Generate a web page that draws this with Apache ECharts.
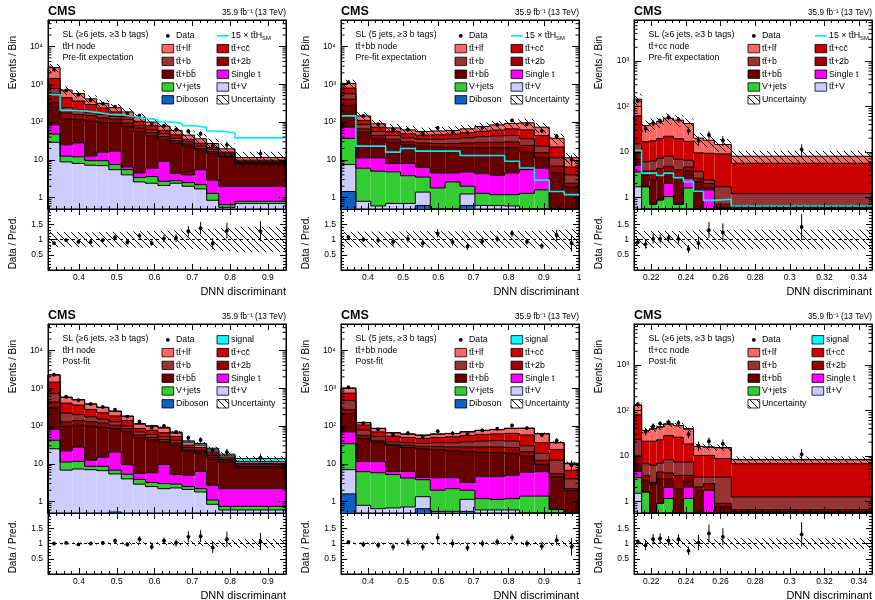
<!DOCTYPE html>
<html>
<head>
<meta charset="utf-8">
<title>DNN discriminant</title>
<script src="https://cdn.jsdelivr.net/npm/echarts@6.0.0/dist/echarts.min.js"></script>
<style>
  html, body { margin: 0; padding: 0; background: #fff; }
  #chart-container { width: 875px; height: 600px; }
</style>
</head>
<body>
<div id="chart-container"></div>
<script>
// ---- bin edges per node ----
const edgesTTH = [0.318, 0.350, 0.382, 0.415, 0.447, 0.479, 0.512, 0.544, 0.576, 0.609, 0.641, 0.673, 0.706, 0.738, 0.770, 0.813, 0.948];
const edgesTTBB = [0.3235, 0.3658, 0.4081, 0.4503, 0.4926, 0.5349, 0.5772, 0.6195, 0.6618, 0.7041, 0.7463, 0.7886, 0.8309, 0.8732, 0.9155, 0.9577, 1.0];
const edgesTTCC = [0.21, 0.2144, 0.219, 0.2231, 0.2271, 0.2328, 0.2386, 0.2444, 0.2501, 0.2565, 0.2662, 0.3475];

// ---- stack tops (cumulative, bottom -> top) ----
// ttH node, pre-fit
const tthPre_dib  = [0, 0, 0, 0, 0, 0, 0, 0, 0, 0, 0, 0, 0, 0, 0, 0];
const tthPre_ttv  = [29, 8.8, 8.0, 7.2, 7.0, 5.5, 4.0, 2.6, 2.4, 2.1, 2.4, 2.0, 1.7, 0.85, 0.55, 0.7];
const tthPre_vj   = [48, 12.5, 12, 9.5, 9.5, 7.5, 5.5, 3.4, 3.6, 2.7, 2.8, 2.5, 2.2, 1.3, 0.65, 0.8];
const tthPre_st   = [85, 25, 28, 12.6, 16, 17, 6.5, 4.5, 6.0, 9.2, 4.4, 4.0, 5.5, 2.9, 2.0, 2.0];
const tthPre_ttbb = [325, 121, 116, 105, 98, 94, 77, 56, 43, 34, 27.5, 23, 18, 14.8, 12.1, 7.8];
const tthPre_tt2b = [560, 175, 158, 148, 128, 121, 94, 70, 53, 41, 32, 26.4, 20, 16.4, 12.6, 8.3];
const tthPre_ttb  = [770, 240, 206, 175, 158, 140, 115, 80, 62, 49, 37, 30, 23, 19, 14.2, 8.8];
const tthPre_ttcc = [1420, 440, 360, 290, 235, 185, 145, 104, 80, 60, 46, 35, 27.5, 21, 16, 9.8];
const tthPre_ttlf = [2750, 700, 570, 410, 312, 240, 185, 132, 100, 78, 60, 45, 36, 27, 19.5, 11.5];
const tthPre_cyan = [530, 205, 195, 180, 160, 155, 140, 125, 115, 100, 92, 80, 72, 58, 52, 38];
const tthPre_data = [2420, 686, 525, 377, 306, 257, 168, 148, 88, 80, 63, 57, 49, 23.5, 25, 14.6];
const tthPre_ratio = [0.88, 0.98, 0.92, 0.92, 0.98, 1.07, 0.91, 1.12, 0.88, 1.03, 1.05, 1.27, 1.37, 0.87, 1.29, 1.27];
const tthPre_rerr = [0.02, 0.04, 0.04, 0.05, 0.06, 0.07, 0.07, 0.09, 0.09, 0.12, 0.13, 0.17, 0.2, 0.18, 0.26, 0.33];
const tthPre_unc  = [0.25, 0.24, 0.24, 0.24, 0.25, 0.25, 0.26, 0.27, 0.28, 0.29, 0.3, 0.31, 0.33, 0.35, 0.38, 0.42];

// ttbb node, pre-fit
const ttbbPre_dib  = [1.45, 0, 0, 0, 0, 0.62, 0, 0, 0.62, 0, 0, 0, 0, 0, 0, 0];
const ttbbPre_ttv  = [7.5, 0.8, 0.6, 0.7, 0.7, 1.4, 0.5, 0.5, 1.25, 0.62, 0.62, 0.6, 0, 0, 0, 0];
const ttbbPre_vj   = [37, 6.0, 5.0, 4.8, 3.8, 3.5, 1.8, 2.6, 2.0, 1.3, 1.2, 1.2, 1.3, 1.6, 0, 0];
const ttbbPre_st   = [73, 11.3, 11.3, 8.0, 8.0, 6.3, 4.5, 4.5, 4.8, 4.3, 3.9, 4.5, 5.5, 6.0, 0, 0];
const ttbbPre_ttbb = [270, 54, 36, 29, 25, 23, 22, 21, 21, 21, 21, 21, 16, 11.3, 4.5, 1.9];
const ttbbPre_tt2b = [400, 66, 44, 35, 30, 28, 27, 27, 28, 29, 29, 30, 24, 15.5, 6.8, 2.4];
const ttbbPre_ttb  = [560, 86, 56, 44, 38, 35, 35, 36, 38, 41, 43, 44, 36, 23, 11.3, 4.0];
const ttbbPre_ttcc = [790, 110, 73, 56, 49, 45, 46, 48, 52, 57, 61, 66, 62, 44, 22, 6.5];
const ttbbPre_ttlf = [1050, 145, 90, 70, 62, 56, 58, 60, 66, 76, 84, 92, 95, 73, 37, 11.3];
const ttbbPre_cyan = [145, 23, 23, 16, 20, 17, 17, 17, 13, 13, 13, 9.2, 6.1, 2.9, 1.45, 1.2];
const ttbbPre_data = [1130, 145, 88, 64, 63, 49, 70, 55, 51, 71, 86, 110, 88, 58, 42, 10];
const ttbbPre_ratio = [1.08, 1.0, 0.98, 0.92, 1.02, 0.88, 1.2, 0.92, 0.77, 0.94, 1.02, 1.2, 0.93, 0.79, 1.14, 0.88];
const ttbbPre_rerr = [0.03, 0.08, 0.1, 0.12, 0.13, 0.13, 0.14, 0.12, 0.11, 0.11, 0.11, 0.11, 0.1, 0.1, 0.18, 0.28];
const ttbbPre_unc  = [0.25, 0.26, 0.26, 0.26, 0.27, 0.27, 0.27, 0.27, 0.27, 0.27, 0.28, 0.28, 0.28, 0.29, 0.31, 0.33];

// ttcc node, pre-fit
const ttccPre_dib  = [0, 0, 0, 0, 0, 0, 0, 0, 0, 0, 0];
const ttccPre_ttv  = [1.7, 0, 0, 0, 0, 0, 0, 0, 0, 0, 0];
const ttccPre_vj   = [3.6, 1.7, 0.7, 0.87, 1.03, 0.7, 1.6, 0, 0, 0, 0];
const ttccPre_st   = [5.1, 1.7, 0.7, 0.87, 2.0, 0.7, 2.6, 0, 1.45, 0, 0];
const ttccPre_ttbb = [6.8, 3.0, 2.4, 3.0, 3.6, 2.8, 3.8, 2.2, 1.6, 0.6, 0.6];
const ttccPre_tt2b = [9.5, 3.8, 3.8, 4.3, 4.8, 4.0, 4.6, 2.6, 2.0, 0.7, 0.65];
const ttccPre_ttb  = [15, 6.0, 6.3, 7.2, 8.0, 6.8, 6.5, 3.7, 2.4, 1.7, 1.2];
const ttccPre_ttcc = [62, 16.7, 17.5, 19.5, 22, 19.5, 17, 9.5, 9.3, 9.0, 5.6];
const ttccPre_ttlf = [145, 38, 42, 47, 55, 50, 42, 20, 18, 14.5, 8.0];
const ttccPre_cyan = [10.8, 3.4, 3.4, 3.0, 3.4, 2.7, 2.2, 1.35, 0.85, 0.9, 0.64];
const ttccPre_data = [132, 32, 43, 48, 58, 51, 29, 17.6, 23.6, 17.8, 11.3];
const ttccPre_ratio = [0.91, 0.85, 1.02, 1.02, 1.05, 1.02, 0.69, 0.88, 1.31, 1.23, 1.41];
const ttccPre_rerr = [0.08, 0.15, 0.16, 0.15, 0.14, 0.15, 0.13, 0.21, 0.27, 0.3, 0.42];
const ttccPre_unc  = [0.28, 0.28, 0.28, 0.28, 0.28, 0.28, 0.29, 0.3, 0.3, 0.31, 0.32];

// ttH node, post-fit
const tthPost_dib  = [0, 0, 0, 0, 0, 0.53, 0, 0, 0, 0, 0, 0, 0, 0, 0, 0];
const tthPost_ttv  = [25, 6.8, 7.3, 7.0, 6.6, 5.4, 4.0, 2.9, 2.5, 2.2, 2.3, 2.1, 1.8, 0.85, 0.6, 0.6];
const tthPost_vj   = [42, 11.2, 11.6, 8.6, 8.6, 6.8, 5.3, 3.9, 3.2, 3.0, 2.9, 2.5, 2.2, 1.1, 0.75, 0.75];
const tthPost_st   = [82, 22, 27.6, 12.4, 15, 20.5, 9.5, 5.6, 5.8, 9.6, 5.2, 5.0, 6.3, 2.7, 2.2, 2.2];
const tthPost_ttbb = [300, 99, 105, 100, 92, 86, 70, 48, 43, 38, 31, 22, 19, 14.5, 11, 7.8];
const tthPost_tt2b = [430, 128, 140, 130, 120, 105, 85, 58, 50, 44, 36, 24.5, 21, 16.5, 12, 8.5];
const tthPost_ttb  = [720, 220, 200, 175, 152, 130, 100, 70, 60, 52, 42, 27, 23, 18, 13, 9.3];
const tthPost_ttcc = [1450, 405, 360, 275, 225, 185, 140, 86, 77, 67, 53, 31, 27, 20.5, 14.5, 10.2];
const tthPost_ttlf = [2240, 570, 490, 378, 308, 244, 180, 112, 98, 88, 65, 37.5, 31.5, 23.3, 16.2, 11.4];
const tthPost_sig  = [2270, 582, 500, 385, 314, 249, 184, 116, 102, 92, 69, 40.5, 34.5, 25.8, 18.0, 13.8];
const tthPost_data = [2270, 594, 485, 385, 320, 271, 178, 132, 91, 100, 70, 49, 43, 22.4, 20.5, 14.6];
const tthPost_ratio = [1.0, 1.02, 0.97, 1.0, 1.02, 1.09, 0.97, 1.14, 0.89, 1.09, 1.02, 1.22, 1.24, 0.87, 1.14, 1.06];
const tthPost_rerr = [0.02, 0.04, 0.04, 0.05, 0.06, 0.07, 0.07, 0.1, 0.09, 0.11, 0.12, 0.18, 0.2, 0.18, 0.25, 0.28];
const tthPost_unc  = [0.03, 0.03, 0.03, 0.03, 0.035, 0.04, 0.04, 0.045, 0.05, 0.05, 0.06, 0.07, 0.08, 0.1, 0.12, 0.15];

// ttbb node, post-fit
const ttbbPost_dib  = [1.6, 0, 0, 0, 0, 0.65, 0, 0, 0.55, 0, 0, 0, 0, 0, 0, 0];
const ttbbPost_ttv  = [7.0, 0.8, 0.65, 0.68, 0.72, 1.35, 0.55, 0.55, 1.15, 0.6, 0.6, 0.6, 0, 0, 0, 0];
const ttbbPost_vj   = [34, 6.2, 5.8, 5.2, 4.2, 3.8, 2.0, 2.2, 2.0, 1.2, 1.15, 1.2, 1.4, 1.4, 0.62, 0];
const ttbbPost_st   = [70, 11.5, 11.5, 6.3, 6.3, 4.4, 4.3, 4.3, 3.2, 4.6, 4.6, 5.0, 6.0, 6.2, 0.62, 0];
const ttbbPost_ttbb = [215, 47, 38, 31, 27, 25, 24, 22, 21, 20, 20, 19, 16, 9.5, 4.5, 1.95];
const ttbbPost_tt2b = [270, 57, 42, 33, 31, 29, 29, 28, 28, 28, 28, 27, 21, 12.4, 5.5, 2.2];
const ttbbPost_ttb  = [470, 78, 52, 38, 36, 34.5, 36, 36, 38, 40, 41, 40, 30, 19, 12.4, 4.0];
const ttbbPost_ttcc = [740, 106, 70, 54, 50, 47, 50, 52, 56, 60, 62, 64, 58, 36, 24, 6.7];
const ttbbPost_ttlf = [1000, 123, 86, 66, 61, 57, 61, 63, 70, 76, 80, 86, 86, 62, 36, 10.1];
const ttbbPost_sig  = [1010, 124, 87, 66.7, 61.6, 57.6, 61.6, 63.7, 70.8, 77, 81, 87.5, 88, 63.5, 36.8, 10.4];
const ttbbPost_data = [1060, 120, 82, 59, 65, 51, 73, 64, 61, 77, 85, 104, 88, 58, 41, 9.3];
const ttbbPost_ratio = [1.05, 0.97, 0.94, 0.89, 1.05, 0.89, 1.19, 1.0, 0.86, 1.0, 1.05, 1.19, 1.0, 0.91, 1.11, 0.89];
const ttbbPost_rerr = [0.03, 0.09, 0.1, 0.12, 0.13, 0.12, 0.14, 0.13, 0.11, 0.11, 0.11, 0.12, 0.11, 0.12, 0.17, 0.29];
const ttbbPost_unc  = [0.03, 0.035, 0.035, 0.035, 0.035, 0.035, 0.04, 0.04, 0.04, 0.04, 0.04, 0.045, 0.05, 0.06, 0.08, 0.1];

// ttcc node, post-fit
const ttccPost_dib  = [0, 0, 0, 0, 0, 0, 0, 0, 0, 0, 0];
const ttccPost_ttv  = [1.5, 0, 0, 0, 0, 0, 0, 0, 0, 0, 0];
const ttccPost_vj   = [3.3, 1.6, 0, 0.9, 1.15, 0, 1.15, 0, 0, 0, 0];
const ttccPost_st   = [4.5, 1.6, 0, 0.9, 2.0, 0, 2.05, 0, 1.74, 0, 0];
const ttccPost_ttbb = [6.5, 2.9, 2.4, 3.1, 3.1, 1.9, 2.9, 1.74, 1.74, 0.75, 0.58];
const ttccPost_tt2b = [10, 3.7, 2.6, 4.4, 4.2, 3.7, 3.7, 2.05, 2.45, 0.9, 0.65];
const ttccPost_ttb  = [23, 6.7, 6.2, 6.9, 8.2, 7.3, 7.3, 3.4, 3.4, 3.4, 1.24];
const ttccPost_ttcc = [80, 21, 21, 22.5, 28, 25.7, 18.3, 10.2, 10.2, 8.7, 6.7];
const ttccPost_ttlf = [130, 36, 39, 43, 50, 46, 39, 16, 15.5, 15, 8.2];
const ttccPost_sig  = [131, 36.3, 39.4, 43.4, 50.5, 46.5, 39.4, 16.2, 15.7, 15.2, 8.3];
const ttccPost_data = [138, 34, 45, 51, 55, 53, 30, 16.7, 20.9, 18.5, 10.8];
const ttccPost_ratio = [1.05, 0.94, 1.14, 1.17, 1.09, 1.14, 0.76, 1.03, 1.33, 1.22, 1.3];
const ttccPost_rerr = [0.09, 0.16, 0.17, 0.165, 0.15, 0.16, 0.14, 0.25, 0.29, 0.28, 0.4];
const ttccPost_unc  = [0.12, 0.14, 0.14, 0.14, 0.14, 0.14, 0.14, 0.15, 0.15, 0.16, 0.17];

// ---- legend entries: [label, marker] (marker = process index, 'dot', 'line' or 'hatch') ----
const TT = 'tt\u0304';
const legendPreTT = {
  c1: [['Data', 'dot'], [TT + '+lf', 8], [TT + '+b', 6], [TT + '+bb\u0304', 4], ['V+jets', 2], ['Diboson', 0]],
  c2: [['15 \u00d7 ' + TT + 'H', 'line'], [TT + '+cc\u0304', 7], [TT + '+2b', 5], ['Single t', 3], [TT + '+V', 1], ['Uncertainty', 'hatch']]
};
const legendPreCC = {
  c1: [['Data', 'dot'], [TT + '+lf', 8], [TT + '+b', 6], [TT + '+bb\u0304', 4], ['V+jets', 2], ['Uncertainty', 'hatch']],
  c2: [['15 \u00d7 ' + TT + 'H', 'line'], [TT + '+cc\u0304', 7], [TT + '+2b', 5], ['Single t', 3], [TT + '+V', 1]]
};
const legendPostTT = {
  c1: legendPreTT.c1,
  c2: [['signal', 9]].concat(legendPreTT.c2.slice(1))
};
const legendPostCC = {
  c1: legendPreCC.c1,
  c2: [['signal', 9]].concat(legendPreCC.c2.slice(1))
};

const selSix = 'SL (\u22656 jets, \u22653 b tags)';
const selFive = 'SL (5 jets, \u22653 b tags)';

// ---------------------------------------------------------------
var dom = document.getElementById("chart-container");
var myChart = echarts.init(dom, null, { renderer: "canvas" });

const FONT = '"Liberation Sans", Arial, Helvetica, sans-serif';
// diboson, ttV, V+jets, single t, tt+bb, tt+2b, tt+b, tt+cc, tt+lf, signal
const procColors = ['#0b62c4', '#ccccff', '#33cc33', '#ff00ff', '#660000', '#990000', '#993333', '#cc0000', '#ff6666', '#00ffff'];
const CYAN = '#00f0f0';

const colLeft = [48, 341, 634];
const rowTop = [20, 324];
const W = 238, HM = 189, HR = 61;

function makeHatch() {
  const s = 7;
  const c = document.createElement('canvas');
  c.width = s; c.height = s;
  const g = c.getContext('2d');
  g.strokeStyle = '#000';
  g.lineWidth = 1;
  for (let k = -1; k <= 1; k++) {
    g.beginPath();
    g.moveTo(k * s, 0);
    g.lineTo(k * s + s, s);
    g.stroke();
  }
  return c;
}
const hatchFill = { image: makeHatch(), repeat: 'repeat' };

const panels = [
  { edges: edgesTTH, xStep: 0.1, showMaxX: false, yMin: 0.5, yMax: 5e4,
    layers: [tthPre_dib, tthPre_ttv, tthPre_vj, tthPre_st, tthPre_ttbb, tthPre_tt2b, tthPre_ttb, tthPre_ttcc, tthPre_ttlf],
    cyan: tthPre_cyan, data: tthPre_data, ratio: tthPre_ratio, rerr: tthPre_rerr, unc: tthPre_unc,
    text: [selSix, TT + 'H node', 'Pre-fit expectation'], legend: legendPreTT, col2: 169 },
  { edges: edgesTTBB, xStep: 0.1, showMaxX: true, yMin: 0.5, yMax: 5e4,
    layers: [ttbbPre_dib, ttbbPre_ttv, ttbbPre_vj, ttbbPre_st, ttbbPre_ttbb, ttbbPre_tt2b, ttbbPre_ttb, ttbbPre_ttcc, ttbbPre_ttlf],
    cyan: ttbbPre_cyan, data: ttbbPre_data, ratio: ttbbPre_ratio, rerr: ttbbPre_rerr, unc: ttbbPre_unc,
    text: [selFive, TT + '+bb node', 'Pre-fit expectation'], legend: legendPreTT, col2: 170 },
  { edges: edgesTTCC, xStep: 0.02, showMaxX: false, yMin: 0.55, yMax: 8000,
    layers: [ttccPre_dib, ttccPre_ttv, ttccPre_vj, ttccPre_st, ttccPre_ttbb, ttccPre_tt2b, ttccPre_ttb, ttccPre_ttcc, ttccPre_ttlf],
    cyan: ttccPre_cyan, data: ttccPre_data, ratio: ttccPre_ratio, rerr: ttccPre_rerr, unc: ttccPre_unc,
    text: [selSix, TT + '+cc node', 'Pre-fit expectation'], legend: legendPreCC, col2: 181 },
  { edges: edgesTTH, xStep: 0.1, showMaxX: false, yMin: 0.5, yMax: 5e4,
    layers: [tthPost_dib, tthPost_ttv, tthPost_vj, tthPost_st, tthPost_ttbb, tthPost_tt2b, tthPost_ttb, tthPost_ttcc, tthPost_ttlf, tthPost_sig],
    cyan: null, data: tthPost_data, ratio: tthPost_ratio, rerr: tthPost_rerr, unc: tthPost_unc,
    text: [selSix, TT + 'H node', 'Post-fit'], legend: legendPostTT, col2: 169 },
  { edges: edgesTTBB, xStep: 0.1, showMaxX: true, yMin: 0.5, yMax: 5e4,
    layers: [ttbbPost_dib, ttbbPost_ttv, ttbbPost_vj, ttbbPost_st, ttbbPost_ttbb, ttbbPost_tt2b, ttbbPost_ttb, ttbbPost_ttcc, ttbbPost_ttlf, ttbbPost_sig],
    cyan: null, data: ttbbPost_data, ratio: ttbbPost_ratio, rerr: ttbbPost_rerr, unc: ttbbPost_unc,
    text: [selFive, TT + '+bb node', 'Post-fit'], legend: legendPostTT, col2: 170 },
  { edges: edgesTTCC, xStep: 0.02, showMaxX: false, yMin: 0.55, yMax: 8000,
    layers: [ttccPost_dib, ttccPost_ttv, ttccPost_vj, ttccPost_st, ttccPost_ttbb, ttccPost_tt2b, ttccPost_ttb, ttccPost_ttcc, ttccPost_ttlf, ttccPost_sig],
    cyan: null, data: ttccPost_data, ratio: ttccPost_ratio, rerr: ttccPost_rerr, unc: ttccPost_unc,
    text: [selSix, TT + '+cc node', 'Post-fit'], legend: legendPostCC, col2: 178 }
];

const grid = [], xAxis = [], yAxis = [], series = [], graphic = [];

const black = { color: '#000', width: 1 };

function logLabel(v) {
  const l = Math.log10(v);
  const e = Math.round(l);
  if (Math.abs(l - e) > 0.01 || e < 0) return '';
  return ['1', '10', '10\u00b2', '10\u00b3', '10\u2074'][e] || '';
}

function xAx(g, p, pos, labels) {
  return {
    gridIndex: g, type: 'value', position: pos, z: 10,
    min: p.edges[0], max: p.edges[p.edges.length - 1],
    minInterval: p.xStep, maxInterval: p.xStep,
    axisLine: { show: true, onZero: false, lineStyle: black },
    axisTick: { show: true, inside: true, length: 6, lineStyle: black },
    minorTick: { show: true, splitNumber: 5, length: 3, lineStyle: black },
    axisLabel: { show: labels, color: '#000', fontSize: 8.5, fontFamily: FONT, margin: 3,
      showMinLabel: false, showMaxLabel: p.showMaxX },
    splitLine: { show: false }, minorSplitLine: { show: false }
  };
}

function yLog(g, p, pos, labels) {
  return {
    gridIndex: g, type: 'log', logBase: 10, position: pos, z: 10,
    min: p.yMin, max: p.yMax,
    axisLine: { show: true, onZero: false, lineStyle: black },
    axisTick: { show: true, inside: true, length: 7, lineStyle: black },
    minorTick: { show: false },
    axisLabel: { show: labels, color: '#000', fontSize: 8.5, fontFamily: FONT, margin: 5,
      showMinLabel: false, showMaxLabel: false, formatter: logLabel },
    splitLine: { show: false }
  };
}

function yRatio(g, pos, labels) {
  return {
    gridIndex: g, type: 'value', position: pos, z: 10,
    min: 0, max: 2, minInterval: 0.5, maxInterval: 0.5,
    axisLine: { show: true, onZero: false, lineStyle: black },
    axisTick: { show: true, inside: true, length: 6, lineStyle: black },
    minorTick: { show: true, splitNumber: 5, length: 3, lineStyle: black },
    axisLabel: { show: labels, color: '#000', fontSize: 8.5, fontFamily: FONT, margin: 5,
      showMinLabel: false, showMaxLabel: false },
    splitLine: { show: false }, minorSplitLine: { show: false }
  };
}

// rectangle from [x0, x1, y0, y1, colorIndex]
function rectItem(params, api) {
  const a = api.coord([api.value(0), api.value(3)]);
  const b = api.coord([api.value(1), api.value(2)]);
  return {
    type: 'rect',
    shape: { x: a[0], y: a[1], width: b[0] - a[0], height: b[1] - a[1] },
    style: { fill: procColors[api.value(4)] }
  };
}
function hatchItem(params, api) {
  const a = api.coord([api.value(0), api.value(3)]);
  const b = api.coord([api.value(1), api.value(2)]);
  return {
    type: 'rect',
    shape: { x: a[0], y: a[1], width: b[0] - a[0], height: b[1] - a[1] },
    style: { fill: hatchFill, stroke: null }
  };
}
// data point [x, y, lo, hi]
function pointItem(params, api) {
  const c = api.coord([api.value(0), api.value(1)]);
  const lo = api.coord([api.value(0), api.value(2)]);
  const hi = api.coord([api.value(0), api.value(3)]);
  return {
    type: 'group',
    children: [
      { type: 'line', shape: { x1: c[0], y1: lo[1], x2: c[0], y2: hi[1] }, style: { stroke: '#000', lineWidth: 1 } },
      { type: 'circle', shape: { cx: c[0], cy: c[1], r: 1.9 }, style: { fill: '#000' } }
    ]
  };
}

function txt(x, y, text, size, extra) {
  return Object.assign({
    type: 'text', x: x, y: y, silent: true,
    style: Object.assign({
      text: text, fontSize: size, fontFamily: FONT, fill: '#000',
      textAlign: 'left', textVerticalAlign: 'middle', align: 'left', verticalAlign: 'middle'
    }, extra || {})
  });
}

panels.forEach((p, i) => {
  const L = colLeft[i % 3], T = rowTop[Math.floor(i / 3)];
  const gm = grid.length, gr = gm + 1;
  const nb = p.edges.length - 1;
  const xMin = p.edges[0], xMax = p.edges[nb];
  const top = p.layers[p.layers.length - 1];

  grid.push({ left: L, top: T, width: W, height: HM, show: true, borderColor: '#000', borderWidth: 1, backgroundColor: 'transparent', outerBoundsMode: 'none' });
  grid.push({ left: L, top: T + HM, width: W, height: HR, show: true, borderColor: '#000', borderWidth: 1, backgroundColor: 'transparent', outerBoundsMode: 'none' });

  xAxis.push(xAx(gm, p, 'bottom', false), xAx(gm, p, 'top', false));
  yAxis.push(yLog(gm, p, 'left', true), yLog(gm, p, 'right', false));
  xAxis.push(xAx(gr, p, 'bottom', true), xAx(gr, p, 'top', false));
  yAxis.push(yRatio(gr, 'left', true), yRatio(gr, 'right', false));

  const am = 2 * gm, ar = 2 * gr;

  // stacked process fills
  const fillData = [];
  p.layers.forEach((arr, k) => arr.forEach((v, j) => {
    const lo = k === 0 ? p.yMin : Math.max(p.layers[k - 1][j], p.yMin);
    const hi = Math.max(v, p.yMin);
    if (hi > lo) fillData.push([p.edges[j], p.edges[j + 1], lo, hi, k]);
  }));
  series.push({ type: 'custom', xAxisIndex: am, yAxisIndex: am, silent: true,
    encode: { x: [0, 1], y: [2, 3] }, data: fillData, renderItem: rectItem });

  // histogram outlines
  series.push({ type: 'custom', xAxisIndex: am, yAxisIndex: am, silent: true,
    encode: { x: 0, y: 1 }, data: p.layers.map((arr, k) => [xMin, p.yMin, k]),
    renderItem: (params, api) => {
      const arr = p.layers[api.value(2)];
      const pts = [api.coord([xMin, p.yMin])];
      arr.forEach((v, j) => {
        const y = Math.max(v, p.yMin);
        pts.push(api.coord([p.edges[j], y]), api.coord([p.edges[j + 1], y]));
      });
      pts.push(api.coord([xMax, p.yMin]));
      return { type: 'polyline', shape: { points: pts }, style: { stroke: '#000', lineWidth: 1, fill: null } };
    } });

  // uncertainty band on the stack
  series.push({ type: 'custom', xAxisIndex: am, yAxisIndex: am, silent: true,
    encode: { x: [0, 1], y: [2, 3] },
    data: top.map((v, j) => [p.edges[j], p.edges[j + 1], Math.max(v * (1 - p.unc[j]), p.yMin), v * (1 + p.unc[j])]),
    renderItem: hatchItem });

  // 15 x ttH line (pre-fit)
  if (p.cyan) {
    const pts = p.cyan.map((v, j) => [p.edges[j], v]);
    pts.push([xMax, p.cyan[nb - 1]]);
    series.push({ type: 'line', xAxisIndex: am, yAxisIndex: am, step: 'end', data: pts,
      symbol: 'none', silent: true, lineStyle: { color: CYAN, width: 1.6 } });
  }

  // data points
  series.push({ type: 'custom', xAxisIndex: am, yAxisIndex: am, silent: true,
    encode: { x: 0, y: [1, 2, 3] },
    data: p.data.map((d, j) => {
      const e = d * p.rerr[j] / p.ratio[j];
      return [(p.edges[j] + p.edges[j + 1]) / 2, d, Math.max(d - e, p.yMin), d + e];
    }),
    renderItem: pointItem });

  // minor log ticks on left/right frame
  const minors = [];
  for (let e = -1; e <= 4; e++) {
    for (let m = 2; m <= 9; m++) {
      const v = m * Math.pow(10, e);
      if (v > p.yMin && v < p.yMax) minors.push([xMin, v]);
    }
  }
  series.push({ type: 'custom', xAxisIndex: am, yAxisIndex: am, silent: true, z: 11,
    encode: { x: 0, y: 1 }, data: minors,
    renderItem: (params, api) => {
      const a = api.coord([xMin, api.value(1)]);
      const b = api.coord([xMax, api.value(1)]);
      return { type: 'group', children: [
        { type: 'line', shape: { x1: a[0], y1: a[1], x2: a[0] + 3.5, y2: a[1] }, style: { stroke: '#000', lineWidth: 1 } },
        { type: 'line', shape: { x1: b[0] - 3.5, y1: b[1], x2: b[0], y2: b[1] }, style: { stroke: '#000', lineWidth: 1 } }
      ] };
    } });

  // ratio panel
  series.push({ type: 'custom', xAxisIndex: ar, yAxisIndex: ar, silent: true,
    encode: { x: [0, 1], y: [2, 3] },
    data: p.unc.map((u, j) => [p.edges[j], p.edges[j + 1], 1 - u, 1 + u]),
    renderItem: hatchItem });
  series.push({ type: 'line', xAxisIndex: ar, yAxisIndex: ar, data: [[xMin, 1], [xMax, 1]],
    symbol: 'none', silent: true, lineStyle: { color: '#000', width: 1, type: [3, 3] } });
  series.push({ type: 'custom', xAxisIndex: ar, yAxisIndex: ar, silent: true,
    encode: { x: 0, y: [1, 2, 3] },
    data: p.ratio.map((r, j) => [(p.edges[j] + p.edges[j + 1]) / 2, r,
      Math.max(r - p.rerr[j], 0), Math.min(r + p.rerr[j], 2)]),
    renderItem: pointItem });

  // ---- texts ----
  graphic.push(txt(L, T - 8, 'CMS', 12.5, { fontWeight: 'bold' }));
  graphic.push(txt(L + W, T - 7, '35.9 fb\u207b\u00b9 (13 TeV)', 8.2, { textAlign: 'right', align: 'right' }));
  graphic.push(txt(L + W, T + HM + HR + 22, 'DNN discriminant', 11, { textAlign: 'right', align: 'right' }));
  graphic.push(Object.assign(txt(L - 35, T + 16, 'Events / Bin', 10, { textAlign: 'right', align: 'right' }), { rotation: Math.PI / 2 }));
  graphic.push(Object.assign(txt(L - 35, T + HM + 7, 'Data / Pred.', 10, { textAlign: 'right', align: 'right' }), { rotation: Math.PI / 2 }));
  p.text.forEach((t, k) => graphic.push(txt(L + 14.5, T + 14.8 + 11.6 * k, t, 8.8)));

  // ---- legend ----
  [p.legend.c1, p.legend.c2].forEach((col, c) => col.forEach((ent, r) => {
    const bx = L + (c === 0 ? 114 : p.col2);
    const cy = T + 15.8 + 12.8 * r;
    const kind = ent[1];
    if (kind === 'dot') {
      graphic.push({ type: 'circle', silent: true, shape: { cx: bx + 5.8, cy: cy, r: 1.9 }, style: { fill: '#000' } });
    } else if (kind === 'line') {
      graphic.push({ type: 'line', silent: true, shape: { x1: bx, y1: cy, x2: bx + 11.7, y2: cy }, style: { stroke: CYAN, lineWidth: 1.6 } });
    } else {
      graphic.push({ type: 'rect', silent: true, shape: { x: bx, y: cy - 4.2, width: 11.7, height: 8.4 },
        style: { fill: kind === 'hatch' ? hatchFill : procColors[kind], stroke: '#000', lineWidth: 0.8 } });
    }
    if (kind === 'line') {
      graphic.push(txt(bx + 14, cy, '{a|' + ent[0] + '}{s|SM}', 8.8, {
        rich: {
          a: { fontSize: 8.8, fontFamily: FONT, lineHeight: 11 },
          s: { fontSize: 5.8, fontFamily: FONT, lineHeight: 6, verticalAlign: 'bottom' }
        }
      }));
    } else {
      graphic.push(txt(bx + 14, cy, ent[0], 8.8));
    }
  }));
});

var option = {
  animation: false,
  backgroundColor: '#fff',
  grid: grid,
  xAxis: xAxis,
  yAxis: yAxis,
  series: series,
  graphic: graphic
};

if (option && typeof option === "object") {
  myChart.setOption(option);
}

window.addEventListener("resize", myChart.resize);
</script>
</body>
</html>
